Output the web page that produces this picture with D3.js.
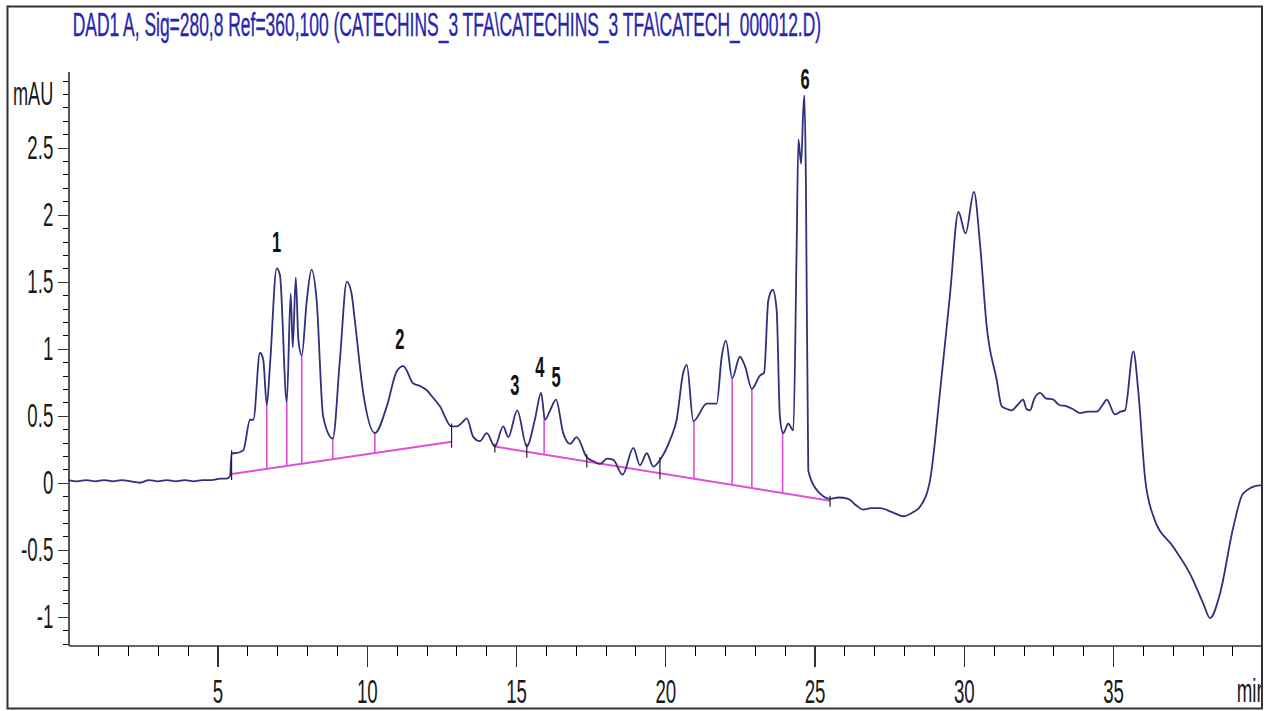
<!DOCTYPE html>
<html>
<head>
<meta charset="utf-8">
<script src="https://cdn.jsdelivr.net/npm/d3@7"></script>
<style>
body { margin: 0; background: #fff; }
svg text { font-family: "Liberation Sans", Arial, sans-serif; }
</style>
</head>
<body>
<svg id="chart" width="1271" height="711"></svg>
<script>
// signal trace: [time (min), absorbance (mAU)]
const signal = [
    [0, 0.02], [0.3, 0.01], [0.6, 0.02], [0.9, 0.01], [1.2, 0.02], [1.5, 0.01], [1.8, 0.02],
    [2.1, 0.01], [2.4, 0.00], [2.7, 0.02], [3.0, 0.01], [3.3, 0.02], [3.6, 0.01], [3.9, 0.02],
    [4.2, 0.01], [4.5, 0.02], [4.8, 0.02], [5.1, 0.03], [5.3, 0.03],
    [5.42, 0.05], [5.47, 0.22], [5.58, 0.22], [5.86, 0.24], [6.09, 0.47], [6.20, 0.47],
    [6.42, 0.97], [6.53, 0.92], [6.65, 0.58], [6.76, 0.89], [6.98, 1.60], [7.09, 1.55],
    [7.32, 0.60], [7.45, 1.41], [7.52, 1.01], [7.62, 1.53], [7.71, 1.06], [7.82, 0.95],
    [7.99, 1.36], [8.15, 1.59], [8.32, 1.36], [8.54, 0.49], [8.86, 0.33], [9.10, 0.92],
    [9.33, 1.50], [9.49, 1.41], [9.60, 1.21], [9.88, 0.67], [10.27, 0.37], [10.67, 0.57],
    [11.00, 0.83], [11.22, 0.87], [11.56, 0.74], [11.80, 0.72], [12.01, 0.69], [12.20, 0.64],
    [12.45, 0.57], [12.84, 0.42], [13.01, 0.42], [13.20, 0.45], [13.35, 0.48], [13.57, 0.34],
    [13.79, 0.31], [14.02, 0.37], [14.29, 0.27],
    [14.57, 0.42], [14.74, 0.34], [15.04, 0.54], [15.36, 0.27], [15.63, 0.47], [15.84, 0.67],
    [15.97, 0.47], [16.14, 0.54], [16.34, 0.62], [16.58, 0.37], [16.81, 0.29], [17.03, 0.34],
    [17.37, 0.19], [17.60, 0.16], [17.81, 0.14], [18.05, 0.18], [18.26, 0.17], [18.57, 0.06],
    [18.93, 0.26], [19.15, 0.13], [19.38, 0.22], [19.60, 0.12], [19.82, 0.17], [20.16, 0.32],
    [20.38, 0.47], [20.60, 0.82],
    [20.72, 0.88], [20.94, 0.46], [21.39, 0.59], [21.72, 0.59], [21.89, 0.94], [22.03, 1.06],
    [22.24, 0.78], [22.50, 0.94], [22.67, 0.87], [22.90, 0.70], [23.17, 0.80], [23.31, 0.82],
    [23.45, 1.36], [23.60, 1.44], [23.73, 1.29], [23.84, 0.49], [23.95, 0.37], [24.12, 0.44],
    [24.29, 0.39], [24.40, 1.76], [24.46, 2.56], [24.55, 2.38], [24.62, 2.77], [24.66, 2.89],
    [24.71, 2.26], [24.79, 0.09], [25.18, -0.08], [25.52, -0.12], [25.80, -0.11], [26.13, -0.12],
    [26.40, -0.17], [26.63, -0.20], [26.90, -0.19], [27.19, -0.19], [27.60, -0.22], [27.97, -0.25],
    [28.30, -0.22], [28.53, -0.18], [28.87, 0.02], [29.20, 0.67], [29.54, 1.41],
    [29.82, 2.02], [30.06, 1.86], [30.34, 2.17], [30.54, 1.79], [30.77, 1.16], [31.10, 0.77],
    [31.27, 0.57], [31.45, 0.55], [31.60, 0.54], [31.80, 0.58], [31.99, 0.62], [32.10, 0.55],
    [32.22, 0.54], [32.35, 0.62], [32.55, 0.67], [32.75, 0.63], [33.00, 0.62], [33.20, 0.58],
    [33.45, 0.57], [33.65, 0.55], [33.89, 0.52], [34.15, 0.53], [34.45, 0.53], [34.65, 0.58],
    [34.79, 0.62], [35.06, 0.51], [35.25, 0.53], [35.40, 0.54],
    [35.68, 0.98], [35.85, 0.67], [36.07, 0.04], [36.35, -0.25], [37.02, -0.48], [37.58, -0.68],
    [38.02, -0.90], [38.25, -1.01], [38.58, -0.83], [39.03, -0.33], [39.36, -0.08], [39.92, -0.02],
    [40, -0.02]
];

// integration baselines: [t0, v0, t1, v1]
const baselines = [
    [5.47, 0.065, 12.84, 0.306],
    [14.29, 0.27, 25.52, -0.134]
];
const dropTimes = [6.65, 7.32, 7.82, 8.86, 10.27, 15.94, 20.96, 22.24, 22.90, 23.93];
const eventTimes = [5.47, 12.84, 14.29, 15.36, 17.37, 19.82, 25.52];

const peakNames = ["1", "2", "3", "4", "5", "6"];
const peakTime = [6.98, 11.11, 14.96, 15.80, 16.34, 24.68];
const peakLevel = [1.80, 1.08, 0.73, 0.87, 0.79, 3.02];

const xMajorTicks = [5, 10, 15, 20, 25, 30, 35];
const yMajorTicks = [-1, -0.5, 0, 0.5, 1, 1.5, 2, 2.5];

const titleText = "DAD1 A, Sig=280,8 Ref=360,100 (CATECHINS_3 TFA\\CATECHINS_3 TFA\\CATECH_000012.D)";

const SX = 0.55; // the picture is squeezed sideways

const svg = d3.select("#chart");
const x = d3.scaleLinear().domain([0, 40]).range([68.3, 1262.3]);
const y = d3.scaleLinear().domain([-1.216, 3.067]).range([645.7, 71.7]);

svg.append("defs").append("clipPath").attr("id", "frame")
    .append("rect").attr("x", 7).attr("y", 6).attr("width", 1255).attr("height", 703);

// title, squeezed to the width it has in the picture
const title = svg.append("text")
    .attr("y", 36)
    .attr("font-size", 33)
    .attr("fill", "#2626b0")
    .attr("stroke", "#2626b0").attr("stroke-width", 0.4)
    .text(titleText);
const tSX = 749 / title.node().getComputedTextLength();
title.attr("x", 72.7 / tSX).attr("transform", `scale(${tSX},1)`);

const g = svg.append("g").attr("clip-path", "url(#frame)");

// y axis
const yMinor = d3.range(-12, 31).map(i => i / 10);
g.append("g").attr("transform", "translate(68.3,0)")
    .call(d3.axisLeft(y).tickValues(yMinor).tickSize(5).tickSizeOuter(0).tickFormat(""))
    .call(a => a.select(".domain").attr("stroke", "#555").attr("stroke-width", 1.6));

const yAx = g.append("g").attr("transform", "translate(68.3,0)")
    .call(d3.axisLeft(y).tickValues(yMajorTicks).tickSize(10).tickFormat(d => String(d)));
yAx.select(".domain").remove();
yAx.selectAll(".tick line").attr("stroke", "#333").attr("stroke-width", 1.3);
yAx.selectAll("text")
    .attr("font-size", 34).attr("fill", "#1a1a1a")
    .attr("x", -15 / SX)
    .attr("transform", `scale(${SX},1)`);

// x axis
const xMinor = d3.range(1, 40);
g.append("g").attr("transform", "translate(0,645.7)")
    .call(d3.axisBottom(x).tickValues(xMinor).tickSize(10).tickSizeOuter(0).tickFormat(""))
    .call(a => a.select(".domain").attr("stroke", "#666").attr("stroke-width", 2));

const xAx = g.append("g").attr("transform", "translate(0,645.7)")
    .call(d3.axisBottom(x).tickValues(xMajorTicks).tickSize(21).tickFormat(d => String(d)));
xAx.select(".domain").remove();
xAx.selectAll(".tick line").attr("stroke", "#333").attr("stroke-width", 1.3);
xAx.selectAll("text")
    .attr("font-size", 34).attr("fill", "#1a1a1a")
    .attr("y", 57).attr("dy", 0)
    .attr("transform", `scale(${SX},1)`);
svg.selectAll(".domain, .tick line").attr("shape-rendering", "crispEdges");

// unit labels
g.append("text").attr("x", 53.3 / SX).attr("y", 105)
    .attr("transform", `scale(${SX},1)`)
    .attr("text-anchor", "end").attr("font-size", 33).attr("fill", "#1a1a1a")
    .text("mAU");
g.append("text").attr("x", 1236.7 / SX).attr("y", 702)
    .attr("transform", `scale(${SX},1)`)
    .attr("font-size", 34).attr("fill", "#1a1a1a")
    .text("min");

// value of the trace at time t
const bis = d3.bisector(d => d[0]).left;
function traceAt(t) {
    const i = Math.max(1, Math.min(signal.length - 1, bis(signal, t)));
    const a = signal[i - 1], b = signal[i];
    return a[1] + (b[1] - a[1]) * (t - a[0]) / (b[0] - a[0]);
}
function baseAt(t) {
    const s = baselines.find(b => t >= b[0] - 0.01 && t <= b[2] + 0.01);
    if (!s) return null;
    return s[1] + (s[3] - s[1]) * (t - s[0]) / (s[2] - s[0]);
}

// baselines and drop lines
const pink = "#e04fd6";
g.selectAll(".base").data(baselines).join("line")
    .attr("class", "base")
    .attr("x1", d => x(d[0])).attr("y1", d => y(d[1]))
    .attr("x2", d => x(d[2])).attr("y2", d => y(d[3]))
    .attr("stroke", pink).attr("stroke-width", 2);

g.selectAll(".drop").data(dropTimes).join("line")
    .attr("class", "drop")
    .attr("x1", d => x(d)).attr("x2", d => x(d))
    .attr("y1", d => y(baseAt(d))).attr("y2", d => y(traceAt(d)))
    .attr("stroke", pink).attr("stroke-width", 1.6);

// signal
g.append("path")
    .datum(signal)
    .attr("fill", "none")
    .attr("stroke", "#30307c")
    .attr("stroke-width", 1.8)
    .attr("stroke-linejoin", "round")
    .attr("d", d3.line().curve(d3.curveMonotoneX).x(d => x(d[0])).y(d => y(d[1])));

// integration event marks
g.selectAll(".ev").data(eventTimes).join("line")
    .attr("class", "ev")
    .attr("x1", d => x(d)).attr("x2", d => x(d))
    .attr("y1", d => Math.min(y(traceAt(d)), y(baseAt(d))) - 3)
    .attr("y2", d => Math.max(y(traceAt(d)), y(baseAt(d))) + 6)
    .attr("stroke", "#222").attr("stroke-width", 1.2);

// peak numbers
g.selectAll(".peak").data(peakNames).join("text")
    .attr("class", "peak")
    .attr("transform", (d, i) => `translate(${x(peakTime[i])},${y(peakLevel[i])}) scale(0.55,1)`)
    .attr("text-anchor", "middle")
    .attr("dy", "0.35em")
    .attr("font-family", "'Liberation Serif', 'Times New Roman', serif")
    .attr("font-weight", "bold")
    .attr("font-size", 30)
    .attr("fill", "#111")
    .text(d => d);

// frame
svg.append("rect")
    .attr("x", 7.5).attr("y", 6.5).attr("width", 1254.5).attr("height", 702)
    .attr("fill", "none").attr("stroke", "#333").attr("stroke-width", 2);
</script>
</body>
</html>
